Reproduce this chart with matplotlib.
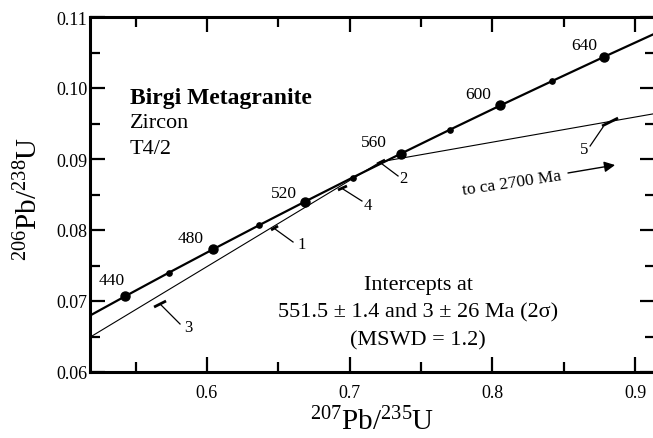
import matplotlib
matplotlib.use("Agg")
import matplotlib.pyplot as plt
from matplotlib.ticker import MultipleLocator

plt.rcParams['font.family'] = ['Liberation Serif', 'DejaVu Serif']
plt.rcParams['mathtext.fontset'] = 'custom'
plt.rcParams['mathtext.rm'] = 'Liberation Serif'
plt.rcParams['mathtext.it'] = 'Liberation Serif:italic'

# concordia points (age in Ma, 207Pb/235U, 206Pb/238U)
ages = [420, 440, 460, 480, 500, 520, 540, 560, 580, 600, 620, 640, 660]
conc_x = [0.5123, 0.5424, 0.5731, 0.6044, 0.6363, 0.6688, 0.7020, 0.7359,
          0.7704, 0.8056, 0.8416, 0.8782, 0.9155]
conc_y = [0.06732, 0.07064, 0.07397, 0.07730, 0.08065, 0.08401, 0.08738,
          0.09075, 0.09414, 0.09754, 0.10095, 0.10438, 0.10781]
big_ages = [440, 480, 520, 560, 600, 640]
small_ages = [460, 500, 540, 580, 620]

# discordia (to 3 Ma) and the chord towards ca 2700 Ma
disc_x = [0.518, 0.7216]
disc_y = [0.0649, 0.0896]
chord_x = [0.7216, 0.914]
chord_y = [0.0896, 0.0964]

# analyses (error ellipses, very elongated), label numbers
ell_labels = ['1', '2', '3', '4', '5']
ell_x = [(0.6449, 0.6498), (0.7192, 0.7248), (0.5629, 0.5713),
         (0.6918, 0.6981), (0.8769, 0.8881)]
ell_y = [(0.08000, 0.08056), (0.08930, 0.08986), (0.06915, 0.07000),
         (0.08563, 0.08620), (0.09465, 0.09577)]
lead_x = [(0.6477, 0.6603), (0.7227, 0.7339), (0.5671, 0.5811),
          (0.6953, 0.7086), (0.8776, 0.8685)]
lead_y = [(0.08014, 0.07831), (0.08930, 0.08761), (0.06958, 0.06676),
          (0.08577, 0.08408), (0.09451, 0.09183)]
lab_xy = [(0.6666, 0.07803), (0.7374, 0.08732), (0.5867, 0.06634),
          (0.7129, 0.08352), (0.8643, 0.09141)]

fig = plt.figure(figsize=(6.53, 4.39), dpi=100)
ax = fig.add_axes([90/653, 1-373/439, 565/653, 355/439])

ax.plot(conc_x, conc_y, color='black', lw=1.6, zorder=3)
ax.plot(disc_x, disc_y, color='black', lw=0.8)
ax.plot(chord_x, chord_y, color='black', lw=0.8)

bx = [conc_x[ages.index(a)] for a in big_ages]
by = [conc_y[ages.index(a)] for a in big_ages]
sx = [conc_x[ages.index(a)] for a in small_ages]
sy = [conc_y[ages.index(a)] for a in small_ages]
ax.plot(bx, by, 'o', color='black', ms=6.5, zorder=4)
ax.plot(sx, sy, 'o', color='black', ms=3.8, zorder=4)

offs = {440: (-9.5, 11.5), 480: (-16, 8), 520: (-15, 6.5), 560: (-19.5, 8.5),
        600: (-16, 8), 640: (-14.5, 8.5)}
for a, x, y in zip(big_ages, bx, by):
    ax.annotate(str(a), (x, y), xytext=offs[a], textcoords='offset points',
                ha='center', va='center', fontsize=12.5)

for i in range(len(ell_labels)):
    ax.plot(ell_x[i], ell_y[i], color='black', lw=2.0, solid_capstyle='butt', zorder=5)
    ax.plot(lead_x[i], lead_y[i], color='black', lw=0.9)
    ax.text(lab_xy[i][0], lab_xy[i][1], ell_labels[i], ha='center', va='center',
            fontsize=12)

ax.annotate('', xy=(0.8860, 0.08915), xytext=(0.8530, 0.08803),
            arrowprops=dict(arrowstyle='-|>', color='black', lw=1.0,
                            mutation_scale=16, shrinkA=0, shrinkB=0))
ax.text(0.8138, 0.08662, 'to ca 2700 Ma', rotation=8.5, ha='center',
        va='center', fontsize=12.5, rotation_mode='anchor')

ax.text(0.546, 0.0979, 'Birgi Metagranite', fontsize=17, fontweight='bold')
ax.text(0.546, 0.0945, 'Zircon', fontsize=16)
ax.text(0.546, 0.09085, 'T4/2', fontsize=16)

ax.text(0.7479, 0.07169, 'Intercepts at', ha='center', fontsize=16)
ax.text(0.7479, 0.06775, '551.5 \u00b1 1.4 and 3 \u00b1 26 Ma (2\u03c3)',
        ha='center', fontsize=16)
ax.text(0.7479, 0.06394, '(MSWD = 1.2)', ha='center', fontsize=16)

ax.set_xlim(0.518, 0.914)
ax.set_ylim(0.06, 0.11)
ax.xaxis.set_major_locator(MultipleLocator(0.1))
ax.xaxis.set_minor_locator(MultipleLocator(0.05))
ax.yaxis.set_major_locator(MultipleLocator(0.01))
ax.yaxis.set_minor_locator(MultipleLocator(0.005))
ax.set_xticks([0.6, 0.7, 0.8, 0.9])
ax.set_xticklabels(['0.6', '0.7', '0.8', '0.9'])
ax.set_yticks([0.06, 0.07, 0.08, 0.09, 0.10, 0.11])
ax.set_yticklabels(['0.06', '0.07', '0.08', '0.09', '0.10', '0.11'])
ax.tick_params(which='both', direction='in', top=True, right=True, width=1.6,
               labelsize=13)
ax.tick_params(which='major', length=11)
ax.tick_params(which='minor', length=7)
ax.tick_params(axis='x', which='major', pad=9)
ax.tick_params(axis='y', which='major', pad=2)
for s in ax.spines.values():
    s.set_linewidth(2.2)

ax.set_xlabel(r'$^{207}$Pb/$^{235}$U', fontsize=21, labelpad=4)
ax.set_ylabel(r'$^{206}$Pb/$^{238}$U', fontsize=21)
ax.yaxis.set_label_coords(-0.083, 0.49)

fig.savefig('out.png', dpi=100)
